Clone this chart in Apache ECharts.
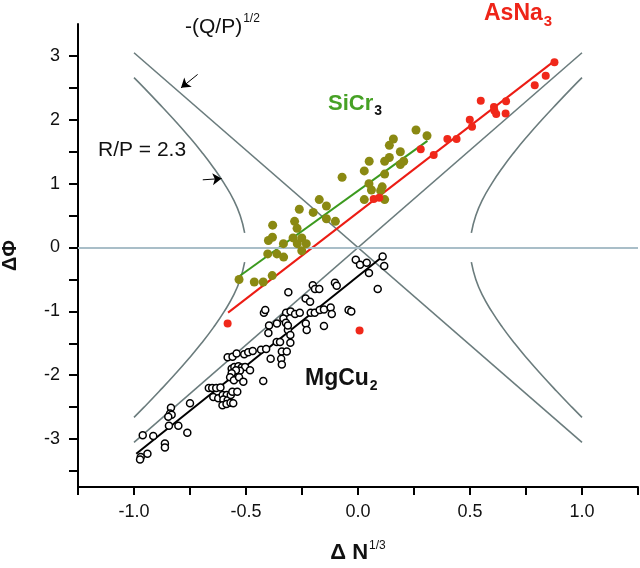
<!DOCTYPE html>
<html><head><meta charset="utf-8">
<script src="https://cdn.jsdelivr.net/npm/echarts@6/dist/echarts.min.js"></script>
<style>html,body{margin:0;padding:0;background:#fff}#c{width:640px;height:568px}</style>
</head><body><div id="c"></div>
<script>
// axis ticks / labels
const xTicks = [-1.25,-1,-0.75,-0.5,-0.25,0,0.25,0.5,0.75,1,1.25];
const xLabels = [-1,-0.5,0,0.5,1];
const yTicks = [-3.5,-3,-2.5,-2,-1.5,-1,-0.5,0,0.5,1,1.5,2,2.5,3];
const yLabels = [-3,-2,-1,0,1,2,3];

// AsNa3 (red filled)
const asna3 = [[0.877,2.90],[0.838,2.69],[0.789,2.54],[0.661,2.29],[0.607,2.20],[0.609,2.14],[0.617,2.09],[0.659,2.10],[0.548,2.30],[0.499,2.00],[0.509,1.89],[0.440,1.70],[0.399,1.70],[0.338,1.45],[0.280,1.54],[0.070,0.76],[0.095,0.78],[-0.582,-1.19],[0.007,-1.30]];
const asna3Fit = [[-0.58,-1.02],[0.88,2.93]];

// SiCr3 (olive filled)
const sicr3 = [[0.259,1.84],[0.308,1.75],[0.158,1.70],[0.140,1.60],[0.189,1.50],[0.140,1.41],[0.119,1.35],[0.204,1.35],[0.189,1.30],[0.050,1.35],[0.028,1.20],[0.119,1.15],[-0.071,1.10],[0.049,1.00],[0.060,0.90],[0.108,0.95],[0.101,0.89],[0.119,0.75],[0.028,0.75],[-0.173,0.75],[-0.141,0.65],[-0.200,0.55],[-0.262,0.60],[-0.141,0.45],[-0.101,0.41],[-0.283,0.41],[-0.381,0.35],[-0.272,0.30],[-0.400,0.11],[-0.382,0.16],[-0.290,0.15],[-0.251,0.15],[-0.333,0.06],[-0.271,0.06],[-0.231,0.06],[-0.251,-0.05],[-0.403,-0.10],[-0.362,-0.10],[-0.332,-0.15],[-0.383,-0.44],[-0.423,-0.54],[-0.463,-0.54],[-0.531,-0.50]];
const sicr3Fit = [[-0.53,-0.45],[0.31,1.67]];

// MgCu2 (black open)
const mgcu2 = [[0.110,-0.14],[0.117,-0.29],[-0.010,-0.19],[0.009,-0.27],[0.039,-0.24],[0.049,-0.40],[0.088,-0.65],[-0.103,-0.55],[-0.095,-0.60],[-0.202,-0.59],[-0.192,-0.65],[-0.173,-0.65],[-0.311,-0.70],[-0.234,-0.80],[-0.214,-0.85],
[-0.420,-1.02],[-0.414,-0.98],[-0.321,-1.02],[-0.301,-1.00],[-0.281,-1.04],[-0.260,-1.02],[-0.211,-1.02],[-0.193,-1.02],[-0.171,-0.98],[-0.152,-0.97],[-0.122,-0.94],[-0.117,-1.04],[-0.042,-0.98],[-0.030,-1.00],
[-0.333,-1.11],[-0.322,-1.18],[-0.313,-1.29],[-0.302,-1.37],[-0.313,-1.22],[-0.233,-1.19],[-0.229,-1.29],[-0.397,-1.22],[-0.400,-1.34],[-0.362,-1.19],[-0.152,-1.23],
[-0.433,-1.60],[-0.410,-1.59],[-0.390,-1.74],[-0.363,-1.48],[-0.348,-1.48],[-0.340,-1.63],[-0.318,-1.63],[-0.343,-1.74],[-0.340,-1.83],[-0.302,-1.49],
[-0.582,-1.72],[-0.560,-1.71],[-0.542,-1.66],[-0.508,-1.67],[-0.490,-1.64],[-0.470,-1.62],
[-0.564,-1.90],[-0.552,-1.87],[-0.534,-1.86],[-0.519,-1.88],[-0.504,-1.87],[-0.482,-1.92],[-0.527,-1.93],[-0.545,-1.92],[-0.564,-1.97],[-0.571,-2.03],[-0.554,-2.08],[-0.531,-2.03],[-0.512,-2.10],[-0.423,-2.09],
[-0.666,-2.20],[-0.651,-2.20],[-0.633,-2.20],[-0.614,-2.19],[-0.646,-2.34],[-0.624,-2.36],[-0.604,-2.31],[-0.586,-2.31],[-0.601,-2.38],[-0.582,-2.39],[-0.568,-2.31],[-0.561,-2.26],[-0.539,-2.26],
[-0.605,-2.47],[-0.587,-2.45],[-0.569,-2.43],[-0.557,-2.44],[-0.835,-2.51],[-0.839,-2.60],[-0.832,-2.62],[-0.847,-2.65],[-0.750,-2.44],
[-0.961,-2.94],[-0.914,-2.95],[-0.844,-2.79],[-0.802,-2.79],[-0.762,-2.90],[-0.862,-3.07],[-0.862,-3.13],[-0.940,-3.23],[-0.970,-3.28],[-0.973,-3.32]];
const mgcu2Fit = [[-0.99,-3.23],[0.11,-0.14]];

// reference curves (gray)
const lineDown = [[-1.0,3.05],[1.0,-3.05]];
const lineUp = [[-1.0,-3.05],[1.0,3.05]];
const hypUL = [[-1.0,2.66],[-0.955,2.5],[-0.887,2.25],[-0.821,2.0],[-0.758,1.75],[-0.699,1.5],[-0.645,1.25],[-0.597,1.0],[-0.556,0.75],[-0.526,0.5],[-0.506,0.23]];
const hypLL = [[-1.0,-2.66],[-0.955,-2.5],[-0.887,-2.25],[-0.821,-2.0],[-0.758,-1.75],[-0.699,-1.5],[-0.645,-1.25],[-0.597,-1.0],[-0.556,-0.75],[-0.526,-0.5],[-0.506,-0.23]];
const hypUR = [[1.0,2.66],[0.955,2.5],[0.887,2.25],[0.821,2.0],[0.758,1.75],[0.699,1.5],[0.645,1.25],[0.597,1.0],[0.556,0.75],[0.526,0.5],[0.506,0.23]];
const hypLR = [[1.0,-2.66],[0.955,-2.5],[0.887,-2.25],[0.821,-2.0],[0.758,-1.75],[0.699,-1.5],[0.645,-1.25],[0.597,-1.0],[0.556,-0.75],[0.526,-0.5],[0.506,-0.23]];
const arrow1 = [[-0.716,2.71],[-0.790,2.50]];
const arrow2 = [[-0.693,1.06],[-0.609,1.08]];

const FONT = '"Liberation Sans", Arial, sans-serif';
const GRAY = '#6b7c7d';
function curve(d){return {type:'line',data:d,smooth:true,showSymbol:false,symbol:'none',silent:true,z:2,lineStyle:{color:GRAY,width:1.6}};}
function fit(d,c){return {type:'line',data:d,showSymbol:false,symbol:'none',silent:true,z:4,lineStyle:{color:c,width:2}};}

const chart = echarts.init(document.getElementById('c'), null, {renderer:'canvas'});
chart.setOption({
  animation:false,
  backgroundColor:'#fff',
  grid:{left:78,right:2,top:24,bottom:81,containLabel:false,outerBoundsMode:'none'},
  xAxis:{type:'value',min:-1.25,max:1.25,interval:0.25,
    axisLine:{onZero:false,lineStyle:{color:'#000',width:2}},
    axisTick:{show:true,inside:false,length:8,lineStyle:{color:'#000',width:2},customValues:xTicks},
    axisLabel:{customValues:xLabels,margin:16,fontFamily:FONT,fontSize:18,color:'#111',formatter:v=>v.toFixed(1)},
    splitLine:{show:false},
    name:'{a|Δ N}{b|1/3}',nameLocation:'middle',nameGap:53,
    nameTextStyle:{rich:{a:{fontFamily:FONT,fontSize:22,fontWeight:'bold',color:'#111',lineHeight:26},b:{fontFamily:FONT,fontSize:12,color:'#111',verticalAlign:'top',lineHeight:26,padding:[0,0,12,1]}}}
  },
  yAxis:{type:'value',min:-3.75,max:3.5,interval:0.25,
    axisLine:{onZero:false,lineStyle:{color:'#000',width:2}},
    axisTick:{show:true,inside:false,length:9,lineStyle:{color:'#000',width:2},customValues:yTicks},
    axisLabel:{customValues:yLabels,margin:18,fontFamily:FONT,fontSize:18,color:'#111',formatter:v=>String(v)},
    splitLine:{show:false},
    name:'ΔΦ',nameLocation:'middle',nameGap:58,nameRotate:90,
    nameTextStyle:{fontFamily:FONT,fontSize:20,fontWeight:'bold',color:'#111'}
  },
  series:[
    Object.assign(curve(lineDown),{markLine:{silent:true,symbol:['none','none'],label:{show:false},lineStyle:{color:'#a9bec8',width:2,type:'solid'},data:[{yAxis:0}]}}),
    curve(lineUp),curve(hypUL),curve(hypLL),curve(hypUR),curve(hypLR),
    {type:'line',data:[],markLine:{silent:true,symbol:['none','arrow'],symbolSize:9,label:{show:false},itemStyle:{color:'#000'},lineStyle:{color:'#000',width:1,type:'solid'},
      data:[[{coord:arrow1[0]},{coord:arrow1[1]}],[{coord:arrow2[0]},{coord:arrow2[1]}]]}},
    fit(asna3Fit,'#ec1c14'),fit(sicr3Fit,'#3b9a1e'),fit(mgcu2Fit,'#000'),
    {type:'scatter',data:sicr3,symbol:'circle',symbolSize:9,z:5,itemStyle:{color:'#8a8912',opacity:1}},
    {type:'scatter',data:asna3,symbol:'circle',symbolSize:8,z:6,itemStyle:{color:'#f0281a',opacity:1}},
    {type:'scatter',data:mgcu2,symbol:'circle',symbolSize:7,z:6,itemStyle:{color:'#fff',borderColor:'#000',borderWidth:1.5,opacity:1}}
  ],
  graphic:[
    {type:'text',x:185,y:27,style:{text:'{a|-(Q/P)}{b|1/2}',verticalAlign:'middle',rich:{a:{fontFamily:FONT,fontSize:21,fill:'#111',lineHeight:28},b:{fontFamily:FONT,fontSize:12,fill:'#111',verticalAlign:'top',lineHeight:28,padding:[0,0,14,1]}}}},
    {type:'text',x:98,y:150,style:{text:'R/P = 2.3',fontFamily:FONT,fontSize:21,fill:'#111',verticalAlign:'middle'}},
    {type:'text',x:484,y:14,style:{text:'{a|AsNa}{b|3}',verticalAlign:'middle',rich:{a:{fontFamily:FONT,fontSize:23,fontWeight:'bold',fill:'#ee2418',lineHeight:30},b:{fontFamily:FONT,fontSize:15,fontWeight:'bold',fill:'#ee2418',lineHeight:30,padding:[16,0,0,1]}}}},
    {type:'text',x:328,y:104,style:{text:'{a|SiCr}{b|3}',verticalAlign:'middle',rich:{a:{fontFamily:FONT,fontSize:22,fontWeight:'bold',fill:'#46a125',lineHeight:30},b:{fontFamily:FONT,fontSize:14,fontWeight:'bold',fill:'#111',lineHeight:30,padding:[14,0,0,1]}}}},
    {type:'text',x:305,y:379,style:{text:'{a|MgCu}{b|2}',verticalAlign:'middle',rich:{a:{fontFamily:FONT,fontSize:23,fontWeight:'bold',fill:'#111',lineHeight:30},b:{fontFamily:FONT,fontSize:14,fontWeight:'bold',fill:'#111',lineHeight:30,padding:[14,0,0,1]}}}}
  ]
});
</script></body></html>
